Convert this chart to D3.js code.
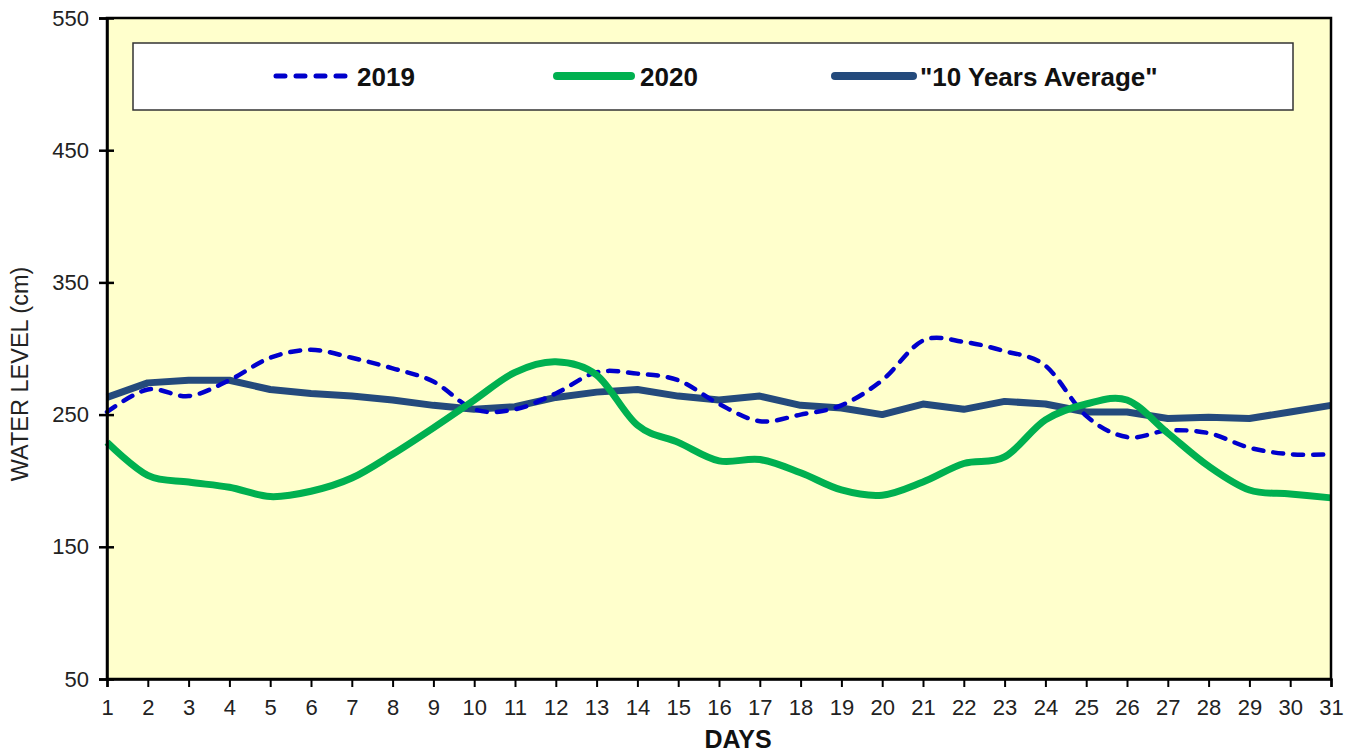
<!DOCTYPE html>
<html>
<head>
<meta charset="utf-8">
<script src="https://cdn.jsdelivr.net/npm/d3@7"></script>
<style>
  html, body { margin: 0; padding: 0; background: #ffffff; }
  svg { display: block; font-family: Arial, "Liberation Sans", sans-serif; }
</style>
</head>
<body>
<svg id="chart" width="1359" height="755"></svg>
<script>
const days = d3.range(1, 32);
const yTicks = [50, 150, 250, 350, 450, 550];
const seriesNames = ["2019", "2020", "\"10 Years Average\""];
const values2019 = [252, 269, 264, 276, 293, 299, 293, 285, 275, 254, 254, 266, 282, 281, 276, 258, 245, 250, 257, 276, 306, 305, 298, 287, 249, 233, 238, 236, 225, 220, 220];
const values2020 = [229, 204, 199, 195, 188, 192, 202, 220, 240, 261, 282, 290, 280, 242, 229, 215, 216, 206, 193, 189, 199, 213, 218, 246, 258, 261, 236, 211, 193, 190, 187];
const valuesAvg = [263, 274, 276, 276, 269, 266, 264, 261, 257, 254, 256, 263, 267, 269, 264, 261, 264, 257, 255, 250, 258, 254, 260, 258, 252, 252, 247, 248, 247, 252, 257];

const svg = d3.select("#chart");
const pLeft = 107, pRight = 1331, pTop = 18, pBottom = 679;
const x = d3.scaleLinear().domain([1, 31]).range([pLeft, pRight]);
const y = d3.scaleLinear().domain([50, 550]).range([pBottom, pTop]);

// plot background
svg.append("rect").attr("x", pLeft).attr("y", pTop).attr("width", pRight - pLeft).attr("height", pBottom - pTop)
  .attr("fill", "#FFFFCC");

// lines
const lineSmooth = d3.line().x((d, i) => x(days[i])).y(d => y(d)).curve(d3.curveCardinal.tension(0));
const lineStraight = d3.line().x((d, i) => x(days[i])).y(d => y(d)).curve(d3.curveLinear);

svg.append("path").datum(valuesAvg).attr("d", lineStraight)
  .attr("fill", "none").attr("stroke", "#244A7C").attr("stroke-width", 7).attr("stroke-linejoin", "round");
svg.append("path").datum(values2019).attr("d", lineSmooth)
  .attr("fill", "none").attr("stroke", "#0000CC").attr("stroke-width", 4.5)
  .attr("stroke-dasharray", "10,10").attr("stroke-linecap", "round");
svg.append("path").datum(values2020).attr("d", lineSmooth)
  .attr("fill", "none").attr("stroke", "#00B050").attr("stroke-width", 7).attr("stroke-linejoin", "round");

// frame
svg.append("rect").attr("x", pLeft).attr("y", pTop).attr("width", pRight - pLeft).attr("height", pBottom - pTop)
  .attr("fill", "none").attr("stroke", "#000").attr("stroke-width", 2.5);

// y axis
const yAxis = d3.axisLeft(y).tickValues(yTicks).tickSize(8).tickPadding(10);
const gy = svg.append("g").attr("transform", `translate(${pLeft},0)`).call(yAxis);
gy.select(".domain").attr("stroke", "#000").attr("stroke-width", 2.5);
gy.selectAll(".tick line").attr("stroke", "#000").attr("stroke-width", 2.5).attr("x2", -8).attr("x1", 7);
gy.selectAll(".tick text").attr("font-size", 22).attr("fill", "#222").attr("font-family", "Arial, 'Liberation Sans', sans-serif");

// x axis
const xAxis = d3.axisBottom(x).tickValues(days).tickSize(8).tickPadding(12).tickFormat(d3.format("d"));
const gx = svg.append("g").attr("transform", `translate(0,${pBottom})`).call(xAxis);
gx.select(".domain").attr("stroke", "#000").attr("stroke-width", 2.5);
gx.selectAll(".tick line").attr("stroke", "#000").attr("stroke-width", 2);
gx.selectAll(".tick text").attr("font-size", 22).attr("fill", "#222").attr("font-family", "Arial, 'Liberation Sans', sans-serif");

// axis titles
svg.append("text").attr("x", 738).attr("y", 748).attr("text-anchor", "middle")
  .attr("font-size", 25).attr("font-weight", "bold").attr("fill", "#111").text("DAYS");
svg.append("text").attr("transform", `translate(28,374) rotate(-90)`).attr("text-anchor", "middle")
  .attr("font-size", 23.5).attr("fill", "#222").text("WATER LEVEL (cm)");

// legend
svg.append("rect").attr("x", 133).attr("y", 43).attr("width", 1160).attr("height", 67)
  .attr("fill", "#fff").attr("stroke", "#333").attr("stroke-width", 1.5);
const legendItems = [
  { name: seriesNames[0], x1: 276, x2: 351, tx: 357, color: "#0000CC", w: 5, dash: "9,11" },
  { name: seriesNames[1], x1: 557, x2: 631, tx: 640, color: "#00B050", w: 8, dash: null },
  { name: seriesNames[2], x1: 835, x2: 913, tx: 920, color: "#244A7C", w: 8, dash: null }
];
const lg = svg.append("g");
legendItems.forEach(it => {
  const l = lg.append("line").attr("x1", it.x1).attr("x2", it.x2).attr("y1", 76).attr("y2", 76)
    .attr("stroke", it.color).attr("stroke-width", it.w).attr("stroke-linecap", "round");
  if (it.dash) l.attr("stroke-dasharray", it.dash);
  lg.append("text").attr("x", it.tx).attr("y", 86).attr("font-size", 26).attr("font-weight", "bold")
    .attr("fill", "#111").text(it.name);
});
</script>
</body>
</html>
